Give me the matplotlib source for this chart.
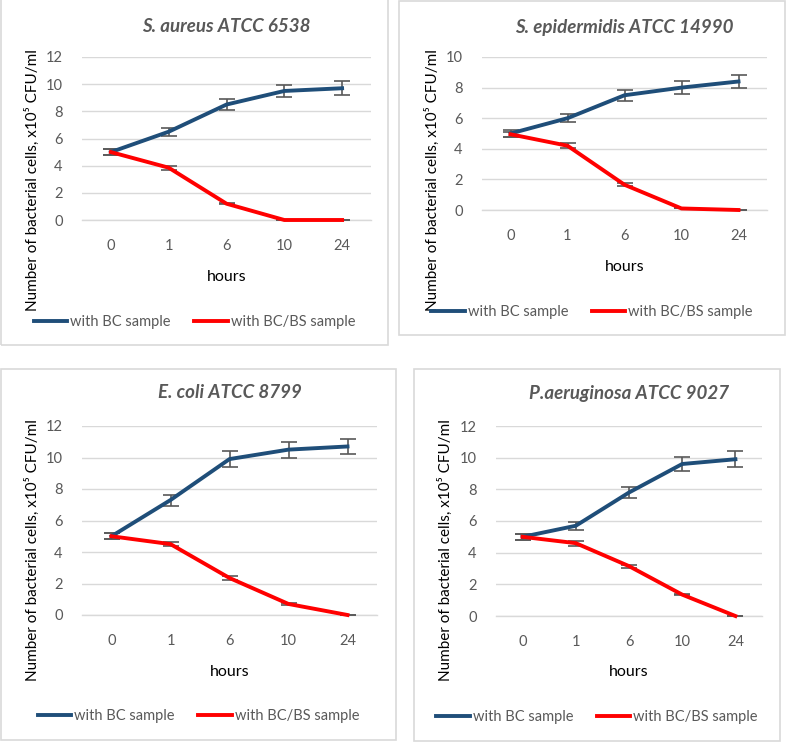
import matplotlib.pyplot as plt
from matplotlib.patches import Rectangle
from matplotlib.lines import Line2D

plt.rcParams['font.family'] = ['Lato', 'DejaVu Sans']

# time points (category axis)
hours = ['0', '1', '6', '10', '24']

# S. aureus ATCC 6538
aureus_bc = [5.0, 6.5, 8.5, 9.5, 9.7]
aureus_bc_err = [0.2, 0.3, 0.4, 0.45, 0.5]
aureus_bs = [5.0, 3.85, 1.2, 0.0, 0.0]
aureus_bs_err = [0.2, 0.15, 0.05, 0.0, 0.0]

# S. epidermidis ATCC 14990
epi_bc = [5.0, 6.0, 7.5, 8.0, 8.4]
epi_bc_err = [0.2, 0.25, 0.35, 0.4, 0.4]
epi_bs = [4.95, 4.2, 1.65, 0.1, 0.0]
epi_bs_err = [0.15, 0.15, 0.1, 0.0, 0.0]

# E. coli ATCC 8799
coli_bc = [5.0, 7.3, 9.9, 10.5, 10.7]
coli_bc_err = [0.2, 0.35, 0.5, 0.5, 0.5]
coli_bs = [5.0, 4.5, 2.35, 0.7, 0.0]
coli_bs_err = [0.2, 0.15, 0.1, 0.05, 0.0]

# P. aeruginosa ATCC 9027
aer_bc = [5.0, 5.7, 7.8, 9.6, 9.9]
aer_bc_err = [0.2, 0.25, 0.35, 0.45, 0.5]
aer_bs = [5.0, 4.6, 3.15, 1.35, 0.0]
aer_bs_err = [0.2, 0.15, 0.1, 0.05, 0.0]

titles = ['S. aureus ATCC 6538', 'S. epidermidis ATCC 14990',
          'E. coli ATCC 8799', 'P.aeruginosa ATCC 9027']
series_labels = ['with BC sample', 'with BC/BS sample']

W, H = 787, 742
BLUE = '#1F4E79'
RED = '#FF0000'
GREY = '#595959'
GRID = '#D9D9D9'

fig = plt.figure(figsize=(W / 100, H / 100), dpi=100)


def fx(x):
    return x / W


def fy(y):
    return 1 - y / H


# layout in pixels: box (l, t, r, b), plot area (l, t, r, b), ymax,
# title y, hours y, legend y, ylabel x/y
panels = [
    dict(box=(1, -2, 388, 345), area=(82, 57, 371, 220), ymax=12,
         title_y=26, hours_y=277, leg_y=322, ylab=(32, 180),
         bc=aureus_bc, bc_err=aureus_bc_err, bs=aureus_bs, bs_err=aureus_bs_err),
    dict(box=(399, 1, 785, 335), area=(482, 57, 767, 210), ymax=10,
         title_y=27, hours_y=267, leg_y=312, ylab=(432, 180),
         bc=epi_bc, bc_err=epi_bc_err, bs=epi_bs, bs_err=epi_bs_err),
    dict(box=(1, 369, 396, 740), area=(82, 426, 377, 615), ymax=12,
         title_y=393, hours_y=672, leg_y=716, ylab=(32, 550),
         bc=coli_bc, bc_err=coli_bc_err, bs=coli_bs, bs_err=coli_bs_err),
    dict(box=(414, 369, 780, 741), area=(496, 426, 762, 616), ymax=12,
         title_y=393, hours_y=672, leg_y=717, ylab=(445, 550),
         bc=aer_bc, bc_err=aer_bc_err, bs=aer_bs, bs_err=aer_bs_err),
]

for p, title in zip(panels, titles):
    bl, bt, br, bb = p['box']
    fig.add_artist(Rectangle((fx(bl), fy(bb)), fx(br - bl), (bb - bt) / H,
                             transform=fig.transFigure, fill=False,
                             edgecolor=GRID, linewidth=1.2))
    l, t, r, b = p['area']
    ax = fig.add_axes([fx(l), fy(b), fx(r - l), (b - t) / H])
    x = range(len(hours))
    ax.errorbar(x, p['bc'], yerr=p['bc_err'], color=BLUE, linewidth=2.8,
                ecolor=GREY, elinewidth=1.2, capsize=5.5, capthick=1.2, zorder=3)
    ax.errorbar(x, p['bs'], yerr=p['bs_err'], color=RED, linewidth=2.8,
                ecolor=GREY, elinewidth=1.2, capsize=5.5, capthick=1.2, zorder=3)
    ax.set_xlim(-0.5, len(hours) - 0.5)
    ax.set_ylim(0, p['ymax'])
    ax.set_yticks(range(0, p['ymax'] + 1, 2))
    ax.set_xticks(list(x))
    ax.set_xticklabels(hours)
    for s in ax.spines.values():
        s.set_visible(False)
    ax.grid(axis='y', color=GRID, linewidth=1)
    ax.set_axisbelow(True)
    ax.tick_params(length=0, labelsize=10.5, labelcolor=GREY)
    ax.tick_params(axis='x', pad=14)
    ax.tick_params(axis='y', pad=14)
    ax.axhline(0, color=GRID, linewidth=1, zorder=1)
    for ln in ax.lines:
        ln.set_clip_on(False)

    cx = (l + r) / 2
    fig.text(fx(cx), fy(p['title_y']), title, ha='center', va='center',
             fontsize=13.5, fontweight='bold', fontstyle='italic', color=GREY)
    fig.text(fx(cx), fy(p['hours_y']), 'hours', ha='center', va='center',
             fontsize=11.5, color='black')
    fig.text(fx(p['ylab'][0]), fy(p['ylab'][1]), 'Number of bacterial cells, x10\u2075 CFU/ml',
             rotation=90, ha='center', va='center', fontsize=11, color='black')

    handles = [Line2D([], [], color=BLUE, linewidth=2.8),
               Line2D([], [], color=RED, linewidth=2.8)]
    fig.legend(handles, series_labels, loc='center',
               bbox_to_anchor=(fx((bl + br) / 2), fy(p['leg_y'])),
               ncol=2, frameon=False, fontsize=10.5, handlelength=2.3,
               handletextpad=0.2, columnspacing=1.6, labelcolor=GREY)

fig.savefig('out.png', dpi=100)
